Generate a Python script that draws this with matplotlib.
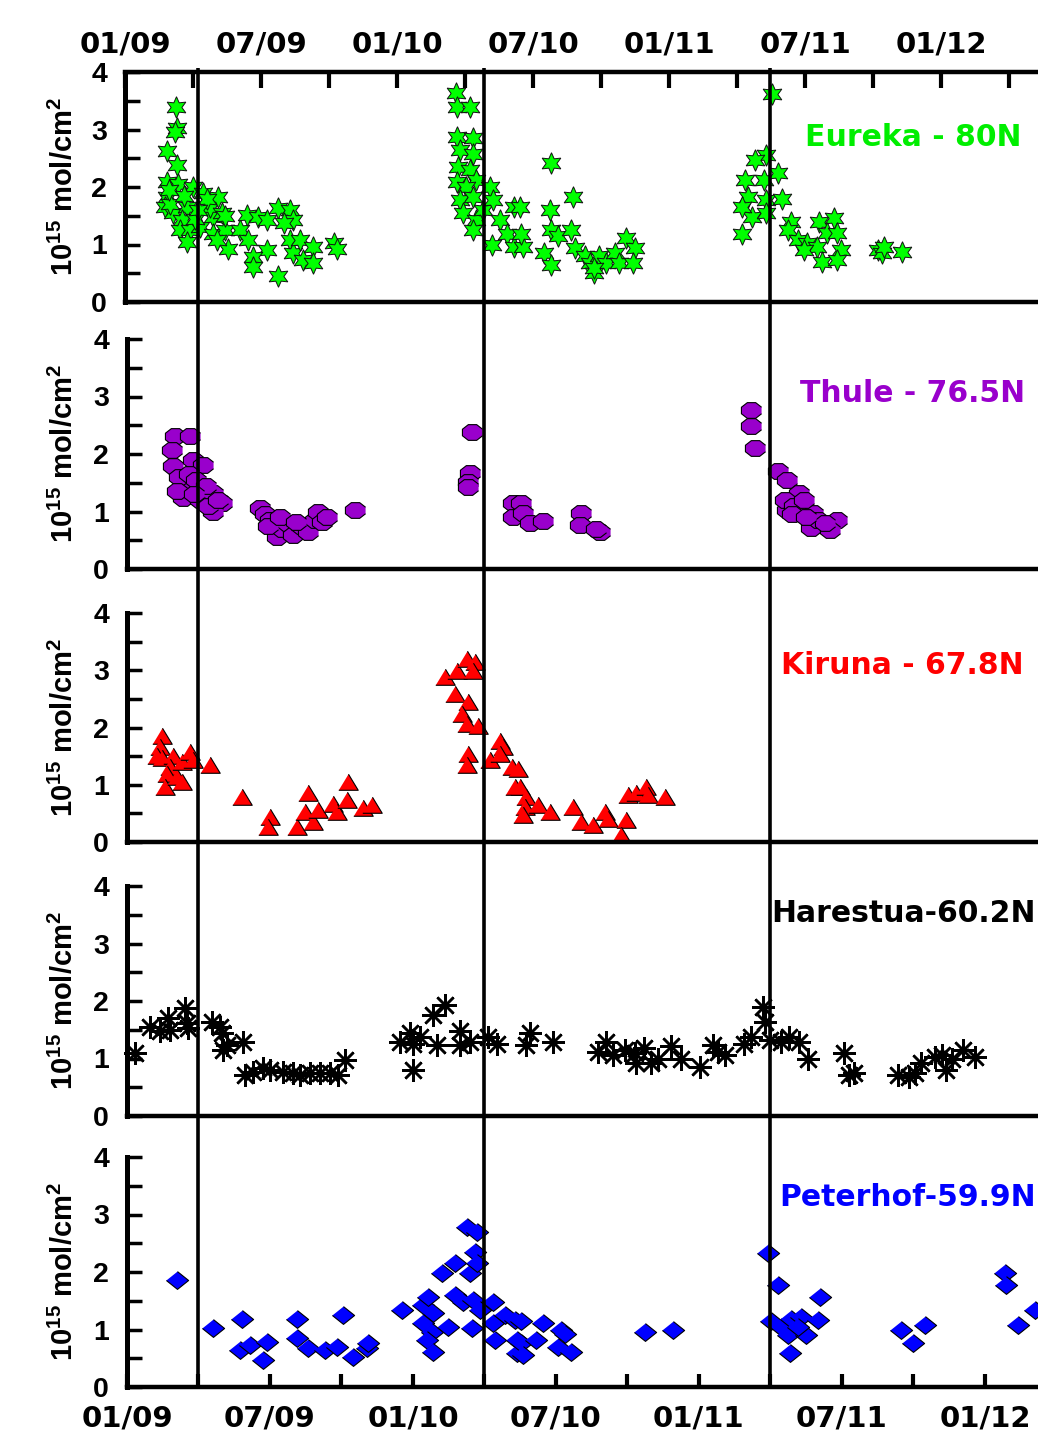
import matplotlib
matplotlib.use('Agg')
import matplotlib.pyplot as plt
from matplotlib.lines import Line2D
from matplotlib.transforms import blended_transform_factory
from matplotlib.ticker import FixedLocator, MultipleLocator
import numpy as np

plt.rcParams['mathtext.fontset'] = 'custom'
plt.rcParams['mathtext.rm'] = 'Liberation Sans:bold'
plt.rcParams['mathtext.it'] = 'Liberation Sans:bold'
plt.rcParams['mathtext.bf'] = 'Liberation Sans:bold'

# ---------------- data (x = months since 01/2009, y = 10^15 mol/cm2) -------------
tick_months = [0, 6, 12, 18, 24, 30, 36]
tick_labels = ['01/09', '07/09', '01/10', '07/10', '01/11', '07/11', '01/12']
event_months = [3, 15, 27]

eureka_m = [1.84, 2.24, 2.28, 2.20, 2.31, 1.84, 2.36, 3.00, 3.46, 1.84, 1.77, 2.13, 2.72, 2.50,
            2.43, 2.87, 3.32, 2.72, 3.90, 3.75, 4.26, 4.10, 3.60, 3.90, 4.40, 4.55, 4.04, 4.40,
            5.07, 5.37, 5.88, 6.25, 5.44, 6.25, 5.63, 5.63, 6.75, 6.75, 7.30, 7.40, 7.03, 7.30,
            7.40, 7.70, 7.87, 8.30, 8.30, 9.20, 9.34, 2.00, 2.60, 3.10, 1.95, 3.20,
            14.60, 14.63, 15.20, 14.63, 15.35, 14.78, 15.35, 14.70, 15.20, 14.63, 15.50, 15.06,
            14.78, 15.35, 14.90, 15.50, 15.35, 15.80, 16.10, 16.25, 16.20, 16.55, 16.85, 17.14,
            17.14, 17.41, 17.56, 17.49, 18.80, 18.73, 18.80, 19.10, 18.50, 18.80, 19.76, 19.69,
            19.84, 20.30, 20.50, 20.70, 20.90, 21.20, 21.60, 21.80, 22.10, 22.50, 22.40, 20.70,
            28.55, 28.26, 27.80, 27.36, 27.50, 27.65, 27.20, 27.20, 28.20, 28.26, 28.30, 28.80,
            29.00, 29.40, 29.25, 29.70, 30.10, 30.55, 30.77, 30.60, 31.30, 30.95, 31.40, 31.60,
            31.40, 29.95, 33.20, 33.40, 33.50, 34.30]
eureka_v = [2.63, 3.40, 3.02, 2.96, 2.38, 2.09, 2.06, 2.00, 1.90, 1.83, 1.66, 1.54, 1.66, 1.43,
            1.25, 1.25, 1.31, 1.04, 1.48, 1.66, 1.54, 1.83, 1.80, 1.19, 1.25, 0.93, 1.08, 1.50,
            1.25, 1.51, 1.48, 1.43, 1.08, 0.90, 0.78, 0.61, 0.46, 1.63, 1.60, 1.43, 1.37, 1.08,
            0.85, 1.08, 0.73, 0.96, 0.67, 1.02, 0.93, 1.70, 1.85, 1.45, 1.95, 1.60,
            3.63, 3.40, 3.40, 2.87, 2.85, 2.64, 2.58, 2.35, 2.30, 2.09, 2.12, 2.00,
            1.77, 1.83, 1.54, 1.43, 1.25, 1.60, 2.00, 1.77, 0.99, 1.43, 1.19, 1.66,
            0.96, 1.66, 0.96, 1.19, 2.41, 1.60, 1.25, 1.14, 0.85, 0.64, 1.83, 1.25,
            0.94, 0.80, 0.67, 0.50, 0.80, 0.67, 0.85, 0.67, 1.11, 0.94, 0.67, 0.60,
            3.61, 2.56, 2.47, 2.12, 1.83, 1.48, 1.66, 1.19, 2.12, 1.77, 1.54, 2.24,
            1.80, 1.40, 1.25, 1.08, 1.02, 0.96, 0.70, 1.40, 1.46, 1.20, 1.20, 0.90,
            0.73, 0.90, 0.90, 0.85, 0.96, 0.87]

thule_m = [2.01, 2.64, 1.87, 1.94, 2.78, 3.20, 2.50, 2.36, 3.06, 3.60, 3.97, 3.60, 2.20, 2.60,
           2.90, 3.30, 2.10, 2.80, 3.40, 3.80,
           5.58, 5.80, 6.00, 6.28, 6.50, 6.70, 6.97, 7.30, 7.60, 7.90, 8.00, 8.17, 8.40, 5.90,
           6.40, 7.10, 9.57,
           14.46, 14.40, 14.30, 14.30,
           16.20, 16.20, 16.55, 16.60, 16.90, 17.45, 19.06, 19.00, 19.84, 19.70,
           26.20, 26.20, 26.34, 27.30, 27.70, 28.20, 27.70, 28.80, 28.70, 29.80, 29.50, 27.60,
           28.00, 28.40, 29.00, 29.30, 27.90, 28.50]
thule_v = [2.31, 2.31, 2.07, 1.80, 1.90, 1.81, 1.41, 1.23, 1.20, 1.32, 1.15, 1.00, 1.60, 1.65,
           1.55, 1.45, 1.35, 1.30, 1.10, 1.20,
           1.06, 0.95, 0.85, 0.56, 0.70, 0.80, 0.59, 0.75, 0.65, 0.85, 1.00, 0.82, 0.90, 0.75,
           0.90, 0.82, 1.03,
           2.39, 1.67, 1.52, 1.43,
           1.14, 0.90, 1.14, 0.97, 0.80, 0.83, 0.97, 0.77, 0.65, 0.70,
           2.77, 2.49, 2.10, 1.71, 1.55, 1.32, 1.03, 0.97, 0.71, 0.85, 0.68, 1.20,
           1.10, 1.20, 0.85, 0.80, 0.95, 0.90]

kiruna_m = [1.46, 1.38, 1.25, 1.46, 1.94, 1.80, 1.67, 1.60, 2.08, 2.30, 2.30, 2.64, 2.78, 3.48,
            4.81, 6.00, 5.93, 7.12, 7.60, 7.47, 7.82, 8.03, 8.66, 8.80, 9.22, 9.29, 9.92, 10.27,
            13.34, 13.83, 14.26, 14.60, 14.53, 13.76, 14.32, 14.04, 14.25, 14.74, 14.32, 14.25,
            15.23, 15.65, 15.79, 15.65, 16.14, 16.28,
            16.40, 16.48, 16.76, 16.69, 16.60, 17.25, 17.74, 18.70, 19.06, 19.56, 20.05, 20.20,
            20.95, 20.74, 21.02, 21.37, 21.79, 21.86, 22.56]
kiruna_v = [1.86, 1.66, 1.51, 1.46, 1.51, 1.31, 1.19, 0.96, 1.14, 1.05, 1.40, 1.57, 1.43, 1.34,
            0.79, 0.44, 0.27, 0.27, 0.85, 0.53, 0.35, 0.56, 0.67, 0.53, 0.73, 1.05, 0.59, 0.64,
            2.88, 2.99, 3.19, 3.14, 2.99, 2.59, 2.44, 2.24, 2.06, 2.03, 1.54, 1.34,
            1.43, 1.77, 1.66, 1.54, 1.31, 0.96,
            1.28, 0.96, 0.79, 0.61, 0.47, 0.64, 0.53, 0.61, 0.35, 0.30, 0.53, 0.41,
            0.38, 0.12, 0.82, 0.85, 0.96, 0.82, 0.79]

harestua_m = [0.34, 0.97, 1.38, 1.73, 1.80, 2.43, 2.50, 2.57, 3.55, 3.90, 3.97, 4.18, 4.04, 4.88,
              4.95, 5.30, 5.72, 6.00, 6.56, 6.98, 7.26, 7.68, 8.10, 8.52, 8.87, 9.15,
              11.46, 11.88, 12.00, 12.30, 12.00, 12.85, 13.34, 13.00, 13.97, 13.97, 14.39, 15.16,
              15.51, 16.90, 16.76, 17.88, 19.77, 20.10, 20.40, 20.90, 21.30, 21.37, 22.00, 21.70,
              22.28, 22.84, 23.26, 24.03, 24.60, 24.80, 25.08, 25.90, 26.20, 26.70, 26.76, 27.00,
              27.46, 27.80, 28.20, 28.58, 30.10, 30.30, 30.50, 32.35, 32.80, 33.05, 33.33, 33.90,
              34.38, 34.19, 34.60, 35.10, 35.57]
harestua_v = [1.09, 1.55, 1.47, 1.70, 1.50, 1.87, 1.61, 1.53, 1.64, 1.55, 1.44, 1.23, 1.15, 1.29,
              0.71, 0.77, 0.83, 0.80, 0.77, 0.74, 0.71, 0.74, 0.74, 0.74, 0.71, 0.97,
              1.29, 1.44, 1.26, 1.38, 0.80, 1.76, 1.93, 1.23, 1.47, 1.23, 1.29, 1.38,
              1.26, 1.44, 1.23, 1.29, 1.12, 1.29, 1.06, 1.15, 1.09, 0.92, 0.92, 1.18,
              1.00, 1.21, 1.00, 0.86, 1.23, 1.12, 1.06, 1.26, 1.38, 1.90, 1.64, 1.32,
              1.29, 1.38, 1.29, 1.00, 1.09, 0.71, 0.74, 0.71, 0.68, 0.74, 0.92, 1.03,
              0.80, 1.06, 1.00, 1.15, 1.03]

peterhof_m = [2.08, 3.62, 4.81, 4.74, 5.16, 5.86, 5.72, 7.12, 7.12, 7.61, 8.31, 8.80, 9.08, 9.50,
              10.06, 10.13, 11.53, 12.43, 12.64, 12.86, 12.43, 12.79, 12.58, 12.86, 13.20, 13.76,
              13.48, 13.76, 14.11, 14.26, 14.67, 14.60, 14.39, 14.67, 14.53, 14.46, 14.81, 15.37,
              15.37, 15.44, 15.86, 16.28, 16.35, 16.35, 16.55, 16.55, 16.62, 17.46, 17.18, 18.23,
              18.37, 18.09, 18.65, 21.72, 22.91, 26.90, 27.32, 27.04, 27.46, 27.74, 27.88, 28.30,
              27.81, 28.51, 28.16, 28.99, 29.07, 32.49, 32.98, 33.47, 36.83, 36.90, 37.39, 38.09]
peterhof_v = [1.86, 1.02, 1.19, 0.64, 0.73, 0.79, 0.47, 1.19, 0.85, 0.67, 0.64, 0.70, 1.25, 0.53,
              0.67, 0.76, 1.34, 1.43, 1.57, 1.28, 1.11, 0.96, 0.82, 0.61, 1.98, 2.15,
              1.05, 1.60, 1.48, 2.79, 2.70, 2.35, 1.98, 2.15, 1.51, 1.02, 1.34, 1.48,
              1.11, 0.82, 1.25, 1.17, 0.82, 0.59, 1.14, 0.76, 0.56, 1.11, 0.82, 0.99,
              0.93, 0.70, 0.61, 0.96, 0.99, 2.33, 1.77, 1.14, 1.05, 0.90, 1.19, 1.22,
              0.59, 0.90, 1.05, 1.17, 1.57, 0.99, 0.76, 1.08, 1.98, 1.77, 1.08, 1.34]

station_names = ['Eureka - 80N', 'Thule - 76.5N', 'Kiruna - 67.8N', 'Harestua-60.2N', 'Peterhof-59.9N']

# ---------------- layout / style ----------------
W, H = 1038, 1434
fig = plt.figure(figsize=(W / 100, H / 100), dpi=100)

def fx(px):
    return px / W

def fy(py):
    return 1 - py / H

RIGHT = 1060
# left px, top px, bottom px, px per month
geo = [(125, 72, 302, 22.667),
       (127, 339, 569, 23.83),
       (127, 613, 842, 23.83),
       (127, 886, 1116, 23.83),
       (127, 1157, 1387, 23.83)]

octagon = [(np.cos(a), 0.78 * np.sin(a)) for a in np.deg2rad(np.arange(22.5, 360, 45))]
triangle = [(-1, -0.8), (1, -0.8), (0, 0.85)]
diamond = [(0, 0.8), (1, 0), (0, -0.8), (-1, 0)]

series = [
    (eureka_m, eureka_v, dict(marker=(6, 1, 0), ms=15.5, mfc='#00FF00', mec='#111111', mew=0.7), '#00EE00'),
    (thule_m, thule_v, dict(marker=octagon, ms=14.5, mfc='#9900CC', mec='k', mew=0.8), '#9900CC'),
    (kiruna_m, kiruna_v, dict(marker=triangle, ms=14, mfc='#FF0000', mec='k', mew=0.8), '#FF0000'),
    (harestua_m, harestua_v, dict(marker=(8, 2, 0), ms=16.5, mfc='k', mec='k', mew=1.8), '#000000'),
    (peterhof_m, peterhof_v, dict(marker=diamond, ms=16, mfc='#0000FF', mec='k', mew=0.8), '#0000FF'),
]
title_pos = [(805, 138), (800, 393), (781, 666), (771, 913), (779, 1198)]

axes = []
for i, ((l, t, b, ppm), (xm, yv, mstyle, tcol)) in enumerate(zip(geo, series)):
    ax = fig.add_axes([fx(l), fy(b), (RIGHT - l) / W, (b - t) / H])
    ax.set_xlim(0, (RIGHT - l) / ppm)
    ax.set_ylim(0, 4)
    ax.plot(xm, yv, ls='none', **mstyle, clip_on=False)
    ax.spines['right'].set_visible(False)
    ax.spines['left'].set_linewidth(3.6)
    ax.spines['bottom'].set_linewidth(3.2)
    ax.spines['top'].set_linewidth(3.2)
    ax.spines['top'].set_visible(i == 0)
    ax.yaxis.set_major_locator(FixedLocator([0, 1, 2, 3, 4]))
    ax.yaxis.set_minor_locator(MultipleLocator(0.5))
    ax.tick_params(axis='y', which='both', direction='in', length=10.8, width=2.5,
                   left=True, right=False, pad=13)
    ax.set_yticklabels(['0', '1', '2', '3', '4'], family='Liberation Sans',
                       fontweight='bold', fontsize=20.5)
    ax.xaxis.set_major_locator(FixedLocator(tick_months))
    ax.xaxis.set_minor_locator(FixedLocator([m + 3 for m in tick_months]))
    if i == 0:
        ax.tick_params(axis='x', which='both', direction='in', length=11.5, width=3,
                       top=True, bottom=False, labeltop=True, labelbottom=False, pad=9.5)
        ax.set_xticklabels(tick_labels, family='DejaVu Sans', fontweight='bold', fontsize=21)
    elif i == 4:
        ax.tick_params(axis='x', which='both', direction='in', length=9.5, width=3,
                       top=False, bottom=True, labeltop=False, labelbottom=True, pad=12.5)
        ax.set_xticklabels(tick_labels, family='DejaVu Sans', fontweight='bold', fontsize=21)
    else:
        ax.tick_params(axis='x', which='both', bottom=False, top=False,
                       labelbottom=False, labeltop=False)
    ax.patch.set_alpha(0)
    axes.append(ax)

    fig.text(fx(64), fy((t + b) / 2), r'10$^{15}$ mol/cm$^{2}$', rotation=90,
             family='Liberation Sans', fontweight='bold', fontsize=21,
             ha='center', va='center')
    tx, ty = title_pos[i]
    fig.text(fx(tx), fy(ty), station_names[i], color=tcol, family='DejaVu Sans',
             fontweight='bold', fontsize=21.5, ha='left', va='center')

# vertical event lines spanning all panels (placed with bottom panel's x scale)
tr = blended_transform_factory(axes[-1].transData, fig.transFigure)
for m in event_months:
    fig.add_artist(Line2D([m, m], [fy(1388), fy(68)], transform=tr, color='k', lw=2.6,
                          solid_capstyle='butt', zorder=10))

fig.savefig('out.png', dpi=100)
